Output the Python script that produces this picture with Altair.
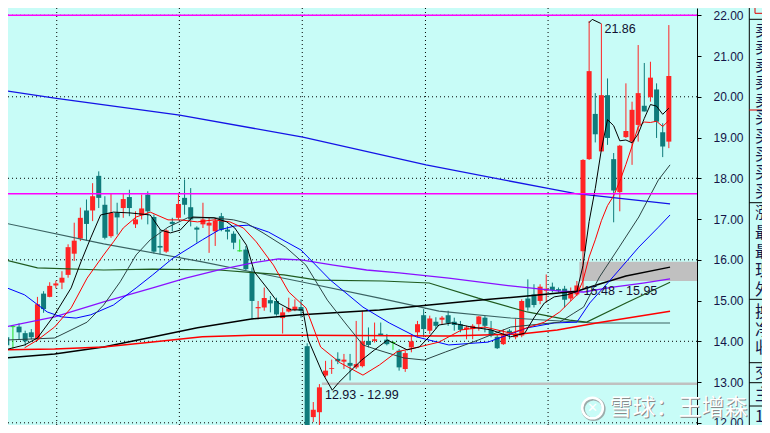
import altair as alt
import pandas as pd

# ---------------- candle data ----------------
opens = [14.10, 14.36, 14.36, 14.20, 14.22, 14.05, 15.17, 15.09, 15.37, 15.44,
         15.63, 16.15, 16.52, 17.21, 17.21, 18.06, 17.35, 16.58, 17.15, 17.27,
         17.54, 16.87, 17.09, 17.60, 17.05, 16.34, 16.20, 16.93, 17.03, 17.52,
         17.29, 16.79, 16.87, 16.84, 16.70, 17.07, 16.74, 16.64, 16.22, 16.25,
         15.71, 14.81, 14.83, 15.01, 14.99, 14.57, 14.73, 14.77, 14.84, 13.88,
         12.14, 12.26, 13.16, 13.32, 13.57, 13.50, 13.47, 13.36, 13.39, 14.01,
         14.01, 14.19, 14.04, 13.97, 13.77, 13.32, 13.85, 14.22, 14.64, 14.26,
         14.48, 14.53, 14.64, 14.48, 14.42, 14.30, 14.30, 14.42, 14.58, 14.28,
         14.11, 13.93, 14.26, 14.10, 14.14, 15.05, 15.15, 14.99, 15.24, 15.34,
         15.28, 15.29, 15.05, 15.15, 16.21, 18.47, 19.58, 18.66, 20.04, 18.47,
         17.66, 19.01, 18.90, 19.31, 19.78, 19.99, 20.18, 19.13, 18.90]
highs = [14.15, 14.40, 14.44, 14.26, 14.30, 15.09, 15.23, 15.45, 15.49, 15.72,
         16.38, 16.91, 17.28, 17.48, 17.88, 18.17, 17.56, 17.62, 17.40, 17.62,
         17.72, 17.19, 17.60, 17.68, 17.11, 16.74, 16.75, 17.03, 17.64, 17.97,
         17.76, 16.82, 17.40, 17.03, 17.03, 17.15, 16.82, 16.70, 16.50, 16.34,
         15.81, 14.99, 15.32, 15.11, 15.07, 14.83, 15.07, 15.03, 15.03, 13.95,
         12.51, 12.95, 13.52, 13.55, 13.73, 13.69, 13.69, 14.50, 14.75, 14.34,
         14.46, 14.46, 14.18, 14.00, 13.81, 13.77, 14.14, 14.50, 14.79, 14.63,
         14.59, 14.62, 14.75, 14.58, 14.50, 14.38, 14.42, 14.62, 14.62, 14.50,
         14.18, 14.30, 14.30, 14.56, 15.03, 15.52, 15.40, 15.40, 15.64, 15.44,
         15.32, 15.36, 15.32, 15.48, 18.47, 21.86, 20.09, 21.80, 20.45, 18.62,
         18.82, 20.33, 19.88, 21.27, 20.83, 20.86, 20.33, 19.35, 21.76]
lows = [13.85, 13.82, 14.05, 13.89, 14.05, 14.01, 14.70, 15.08, 15.30, 15.28,
        15.56, 15.97, 16.46, 16.46, 16.95, 17.27, 16.50, 16.54, 16.62, 17.03,
        17.07, 16.78, 16.99, 16.87, 16.15, 16.13, 16.17, 16.70, 16.99, 17.11,
        16.82, 16.42, 16.78, 16.17, 16.34, 16.70, 16.50, 16.26, 16.20, 15.73,
        14.54, 14.54, 14.75, 14.71, 14.63, 14.19, 14.71, 14.74, 14.58, 11.76,
        12.02, 11.76, 13.12, 13.20, 13.44, 13.32, 13.04, 13.32, 13.36, 13.85,
        13.97, 14.14, 13.90, 13.79, 13.28, 13.25, 13.73, 14.10, 14.10, 14.18,
        14.30, 14.42, 14.38, 14.26, 14.22, 14.05, 14.05, 14.26, 14.22, 14.10,
        13.81, 13.91, 14.05, 14.05, 14.10, 14.75, 14.83, 14.91, 14.95, 15.20,
        15.20, 14.83, 14.99, 15.11, 15.28, 18.45, 18.88, 18.66, 18.82, 16.92,
        17.19, 18.99, 18.33, 18.90, 19.64, 19.88, 18.99, 18.52, 18.74]
closes = [13.90, 14.36, 14.22, 14.00, 14.10, 14.91, 14.79, 15.36, 15.42, 15.56,
          16.31, 16.47, 17.03, 16.88, 17.56, 17.52, 16.54, 17.15, 17.04, 17.49,
          17.27, 16.99, 17.26, 17.19, 16.20, 16.30, 16.72, 16.88, 17.37, 17.35,
          16.99, 16.74, 16.99, 16.91, 16.96, 16.74, 16.69, 16.42, 16.22, 15.77,
          14.99, 14.84, 15.06, 14.93, 14.66, 14.71, 14.81, 14.85, 14.75, 11.84,
          12.32, 12.87, 13.28, 13.34, 13.51, 13.55, 13.40, 13.44, 14.00, 13.91,
          14.05, 14.15, 13.93, 13.97, 13.36, 13.71, 14.00, 14.42, 14.30, 14.56,
          14.38, 14.58, 14.45, 14.40, 14.28, 14.34, 14.38, 14.61, 14.38, 14.14,
          13.83, 14.15, 14.20, 14.18, 14.99, 14.83, 14.89, 15.34, 15.29, 15.26,
          15.24, 15.02, 15.21, 15.37, 18.45, 20.63, 19.08, 20.04, 18.99, 17.70,
          18.80, 19.16, 19.68, 20.09, 19.64, 20.47, 19.39, 18.78, 20.51]

# ---------------- moving-average lines ----------------
ma5_i = [-0.3, 2.9, 5.0, 7.8, 10.5, 12.1, 13.7, 15.3, 17.4, 20.1, 23.4, 25.1, 26.7, 28.3, 30.3,
         33.8, 35.9, 37.2, 39.1, 40.4, 42.7, 44.3, 46.4, 48.3, 49.2, 51.5, 53.1, 54.1, 55.7, 57.9,
         60.0, 62.1, 63.7, 65.3, 67.3, 68.9, 70.5, 72.6, 75.8, 79.0, 82.2, 84.5, 86.1, 87.7, 89.3,
         91.4, 93, 94, 95, 96, 97, 98, 99, 100, 101, 102, 103, 104, 105, 106, 107, 108]
ma5_v = [13.79, 13.91, 14.08, 14.65, 15.31, 15.95, 16.54, 17.10, 17.17, 17.15, 17.10, 16.73, 16.66, 16.73, 17.05,
         17.03, 16.93, 16.78, 16.36, 15.70, 15.26, 14.94, 14.77, 14.77, 14.03, 13.22, 12.80, 12.98, 13.22, 13.54,
         13.79, 14.03, 13.91, 13.79, 13.86, 14.11, 14.40, 14.45, 14.35, 14.28, 14.11, 14.20, 14.60, 14.94, 15.09,
         15.14, 15.22, 15.86, 16.94, 17.75, 18.71, 19.44, 19.29, 18.92, 18.94, 18.87, 19.09, 19.47, 19.81, 19.77, 19.57, 19.72]

ma10_i = [2.9, 5.0, 7.8, 10.5, 13.1, 15.8, 17.4, 19.0, 21.1, 23.4, 26.3, 28.3, 31.1, 33.8, 36.4,
          38.6, 40.7, 43.5, 46.0, 48.8, 51.2, 54.4, 58.1, 60.8, 63.6, 67.2, 70.5, 74.2, 78.0, 82.2,
          87.7, 90.2, 93, 94, 95, 96, 97, 98, 99, 100, 101, 102, 103, 104, 105, 106, 107, 108]
ma10_v = [13.84, 14.03, 14.35, 14.82, 15.55, 16.12, 16.44, 16.78, 17.05, 17.17, 16.98, 16.98, 16.93, 16.98, 16.93,
          16.78, 16.44, 15.87, 15.21, 14.82, 13.86, 13.47, 13.17, 13.42, 13.74, 13.86, 13.98, 14.28, 14.35, 14.20,
          14.47, 14.72, 15.14, 15.49, 16.07, 16.49, 16.96, 17.33, 17.57, 17.93, 18.34, 18.79, 19.26, 19.38, 19.37,
          19.40, 19.27, 19.42]

ma20_i = [-0.3, 7.8, 13.1, 15.8, 18.5, 21.1, 23.4, 26.3, 29.5, 33.8, 37.0, 39.1, 41.8, 45.5, 48.8, 52.3,
          55.2, 58.1, 60.5, 64.8, 68.1, 71.6, 76.9, 82.2, 90.2, 92.5, 94.1, 96.7, 99.9, 103.1, 106.3, 108.2]
ma20_v = [14.03, 14.08, 14.47, 14.89, 15.46, 16.12, 16.49, 16.80, 17.03, 17.03, 16.98, 16.90, 16.66, 16.31, 15.87, 15.01,
          14.45, 13.91, 13.79, 13.59, 13.54, 13.74, 14.03, 14.35, 14.47, 14.69, 14.84, 15.58, 16.31, 17.05, 17.96, 18.33]

ma30_i = [-0.3, 2.9, 6.6, 8.9, 11.3, 13.7, 17.4, 21.1, 23.8, 27.1, 31.9, 34.6, 37.2, 39.4, 42.7,
          48.0, 52.8, 58.1, 62.4, 66.8, 72.1, 78.5, 84.9, 89.3, 93.0, 95.1, 98.9, 103.1, 106.3, 108.2]
ma30_v = [15.33, 15.14, 14.72, 14.60, 14.57, 14.65, 14.89, 15.31, 15.63, 16.04, 16.49, 16.73, 16.83, 16.85, 16.68,
          16.24, 15.50, 14.84, 14.45, 14.11, 13.91, 13.98, 14.33, 14.45, 14.47, 14.94, 15.58, 16.31, 16.80, 17.10]

purple_i = [-0.3, 7.8, 15.8, 23.8, 29.2, 34.6, 39.9, 44.3, 48.0, 53.3, 58.7, 64.0, 72.1, 82.2, 90.2,
            94.1, 98.9, 103.8, 108.2]
purple_v = [14.35, 14.60, 14.97, 15.31, 15.55, 15.75, 15.92, 16.02, 16.00, 15.87, 15.75, 15.68, 15.55, 15.36, 15.23,
            15.21, 15.33, 15.43, 15.53]

green_i = [-0.3, 5.0, 15.8, 23.8, 34.6, 45.2, 50.7, 61.3, 68.9, 76.9, 84.9, 91.8, 94.6, 101.0, 108.2]
green_v = [16.00, 15.80, 15.75, 15.77, 15.75, 15.63, 15.50, 15.48, 15.43, 15.06, 14.72, 14.52, 14.47, 14.94, 15.45]

slate_i = [-0.3, 15.8, 31.9, 48.0, 60.8, 70.5, 82.2, 95.7, 108.2]
slate_v = [16.90, 16.39, 15.95, 15.46, 15.06, 14.74, 14.57, 14.45, 14.45]

blackl_i = [-0.3, 7.8, 15.8, 23.0, 31.1, 39.9, 48.0, 60.8, 68.9, 76.9, 84.9, 93.0, 96.2, 101.0, 108.2]
blackl_v = [13.59, 13.69, 13.86, 14.08, 14.33, 14.55, 14.65, 14.77, 14.89, 15.01, 15.11, 15.23, 15.38, 15.60, 15.82]

redl_i = [-0.3, 7.8, 15.8, 23.8, 31.9, 39.9, 48.0, 72.1, 83.8, 89.8, 96.2, 108.2]
redl_v = [13.79, 13.81, 13.86, 13.98, 14.11, 14.15, 14.15, 14.13, 14.18, 14.28, 14.45, 14.74]

blue250_i = [-0.3, 8.1, 28.2, 48.3, 68.4, 88.3, 92.6, 108.2]
blue250_v = [20.15, 19.96, 19.55, 19.01, 18.33, 17.75, 17.63, 17.37]

# ---------------- reference lines, bands, labels ----------------
grid_idx = [8.15, 28.15, 48.2, 68.3, 88.3]
grid_prices = [12, 14, 16, 18, 20, 22]
tick_prices = [12, 13, 14, 15, 16, 17, 18, 19, 20, 21, 22]
magenta_prices = [22.0, 17.62]
band_start = [51.4, 93.4]
band_lo = [12.93, 15.48]
band_hi = [12.99, 15.95]
ann_text = ["21.86", "12.93 - 12.99", "15.48 - 15.95"]
ann_i = [97.5, 51.9, 94.1]
ann_v = [21.66, 12.68, 15.23]
hook_i = [95.0, 95.5, 96.9]
hook_v = [21.82, 21.90, 21.80]

panel_sell = ["卖", "卖", "卖", "卖", "卖"]
panel_buy = ["买", "买", "买", "买", "买"]
panel_info1 = ["涨", "最", "最", "现", "外"]
panel_info2 = ["换", "净", "收"]
panel_info3 = ["交"]
panel_info4 = ["主"]
panel_info5 = ["10", "10"]
watermark = "雪球：王增森"

# ---------------- styling ----------------
BG = "#c8fcf7"
RED = "#ff2424"
TEAL = "#0f7b7b"
GREEN = "#22dd22"
NAVY = "#141448"
W, H = 689, 417          # plot area; the whole svg is 754 x 417 so the page never overflows
PAD_R = 65

xs = alt.Scale(domain=[1.013, 111.78], nice=False, zero=False)
ys = alt.Scale(domain=[11.946, 22.179], nice=False, zero=False)

yaxis = alt.Axis(orient="right", values=tick_prices, format=".2f", labelFont="Liberation Sans",
                 labelFontSize=12, labelColor=NAVY, tickColor="black", tickSize=4, tickWidth=1,
                 domainColor="black", domainWidth=1, grid=False, title=None, labelPadding=12,
                 labelFlush=False, labelOverlap=False, labelBound=False)


def xenc(f="i"):
    return alt.X(f"{f}:Q", scale=xs, axis=None)


def yenc(f):
    return alt.Y(f"{f}:Q", scale=ys, axis=yaxis)


layers = []

# dotted grid
hgrid = alt.Chart(pd.DataFrame({"p": grid_prices})).mark_rule(
    color="black", strokeDash=[1, 3], strokeWidth=1).encode(y=yenc("p"))
vgrid = alt.Chart(pd.DataFrame({"i": grid_idx})).mark_rule(
    color="black", strokeDash=[1, 3], strokeWidth=1).encode(x=xenc())
layers += [hgrid, vgrid]

# grey bands
bands = alt.Chart(pd.DataFrame({"x0": band_start, "lo": band_lo, "hi": band_hi})).mark_rect(
    color="#c0c0c0", clip=True).encode(x=xenc("x0"), x2=alt.value(W), y=yenc("lo"), y2="hi")
layers.append(bands)

# candles
cdf = pd.DataFrame({"i": list(range(len(opens))), "o": opens, "h": highs, "l": lows, "c": closes})
cdf["dir"] = ["up" if c > o else ("down" if c < o else "flat") for o, c in zip(opens, closes)]
color = alt.Color("dir:N", scale=alt.Scale(domain=["up", "down", "flat"], range=[RED, TEAL, GREEN]), legend=None)
cbase = alt.Chart(cdf)
wicks = cbase.mark_rule(strokeWidth=1, clip=True).encode(x=xenc(), y=yenc("l"), y2="h", color=color)
bodies = cbase.transform_filter("datum.dir != 'flat'").mark_bar(size=5, clip=True).encode(
    x=xenc(), y=yenc("o"), y2="c", color=color)
flats = cbase.transform_filter("datum.dir == 'flat'").transform_calculate(
    xa="datum.i - 0.4", xb="datum.i + 0.4").mark_rule(strokeWidth=1, clip=True).encode(
    x=xenc("xa"), x2="xb", y=yenc("o"), color=color)
layers += [wicks, bodies, flats]


def line(ix, vals, col, w):
    d = pd.DataFrame({"i": ix, "v": vals})
    return alt.Chart(d).mark_line(color=col, strokeWidth=w, clip=True).encode(x=xenc(), y=yenc("v"))


layers += [
    line(blue250_i, blue250_v, "#1414e6", 1.3),
    line(slate_i, slate_v, "#3a6262", 1.1),
    line(green_i, green_v, "#1f5a1f", 1.2),
    line(purple_i, purple_v, "#8a10ff", 1.3),
    line(blackl_i, blackl_v, "#000000", 1.5),
    line(redl_i, redl_v, "#ff0000", 1.5),
    line(ma30_i, ma30_v, "#0000ff", 1.0),
    line(ma20_i, ma20_v, "#2c4444", 1.0),
    line(ma10_i, ma10_v, "#ff0000", 1.0),
    line(ma5_i, ma5_v, "#000000", 1.0),
]

# magenta horizontal lines
mag = alt.Chart(pd.DataFrame({"p": magenta_prices})).mark_rule(color="#ff00ff", strokeWidth=1.6).encode(y=yenc("p"))
layers.append(mag)

# annotations
hook = alt.Chart(pd.DataFrame({"i": hook_i, "v": hook_v})).mark_line(color="black", strokeWidth=1).encode(
    x=xenc(), y=yenc("v"))
ann = alt.Chart(pd.DataFrame({"i": ann_i, "v": ann_v, "t": ann_text})).mark_text(
    font="Liberation Sans", fontSize=12.5, color="#101030", align="left", baseline="middle").encode(
    x=xenc(), y=yenc("v"), text="t:N")
layers += [hook, ann]

# right-hand info panel
dummy = pd.DataFrame({"k": [0]})


def vrule(x, y1, y2, col="black"):
    return alt.Chart(dummy).mark_rule(color=col, strokeWidth=1).encode(
        x=alt.value(x), y=alt.value(y1), y2=alt.value(y2))


def hrule(y, x1, x2, col="black"):
    return alt.Chart(dummy).mark_rule(color=col, strokeWidth=1).encode(
        y=alt.value(y), x=alt.value(x1), x2=alt.value(x2))


PANEL_X = 741.3
RIGHT = W + PAD_R
layers += [vrule(PANEL_X, 0, H), vrule(747, 0, 5.3, "#e00000"), hrule(5.3, 747, RIGHT, "#e00000")]
for yy, col in [(11.3, "black"), (102, "#e00000"), (194.7, "black"), (291.3, "black"),
                (354.7, "black"), (374.7, "black"), (398, "black")]:
    layers.append(hrule(yy, PANEL_X, RIGHT, col))


def char(t, y):
    return alt.Chart(dummy).mark_text(font="Noto Sans CJK SC", fontSize=16, color=NAVY, align="left",
                                      baseline="middle").encode(
        x=alt.value(747), y=alt.value(y), text=alt.value(t))


for lines_, y0, lh in [(panel_sell, 23, 17.4), (panel_buy, 110.3, 18.35), (panel_info1, 205.3, 19.2),
                       (panel_info2, 303.7, 18.3), (panel_info3, 364.7, 18), (panel_info4, 387, 18),
                       (panel_info5, 408.5, 18)]:
    for k, t in enumerate(lines_):
        layers.append(char(t, y0 + k * lh))

# watermark
wm = alt.Chart(pd.DataFrame({"t": [watermark]}))
layers += [
    wm.mark_text(font="Noto Sans CJK SC", fontSize=23, color="#8a8a8a", align="center", baseline="middle",
                 dx=1, dy=1).encode(x=alt.value(670.5), y=alt.value(400), text="t:N"),
    wm.mark_text(font="Noto Sans CJK SC", fontSize=23, color="#ffffff", align="center", baseline="middle").encode(
        x=alt.value(670.5), y=alt.value(400), text="t:N"),
    alt.Chart(dummy).mark_point(shape="circle", filled=False, size=430, strokeWidth=3.5, color="#8a8a8a").encode(
        x=alt.value(585.5), y=alt.value(401)),
    alt.Chart(dummy).mark_point(shape="circle", filled=False, size=430, strokeWidth=2.5, color="#ffffff",
                                opacity=1).encode(x=alt.value(584.5), y=alt.value(400)),
    alt.Chart(dummy).mark_text(text="✕", fontSize=13, color="#ffffff", font="DejaVu Sans").encode(
        x=alt.value(584.5), y=alt.value(400)),
]

chart = alt.layer(*layers).properties(
    width=W, height=H,
    padding={"left": 0, "top": 0, "right": PAD_R, "bottom": 0},
    autosize=alt.AutoSizeParams(type="none"),
    background=BG,
).configure_view(fill=BG, stroke="transparent")

chart.save("out.html", embed_options={"renderer": "svg", "actions": False})
